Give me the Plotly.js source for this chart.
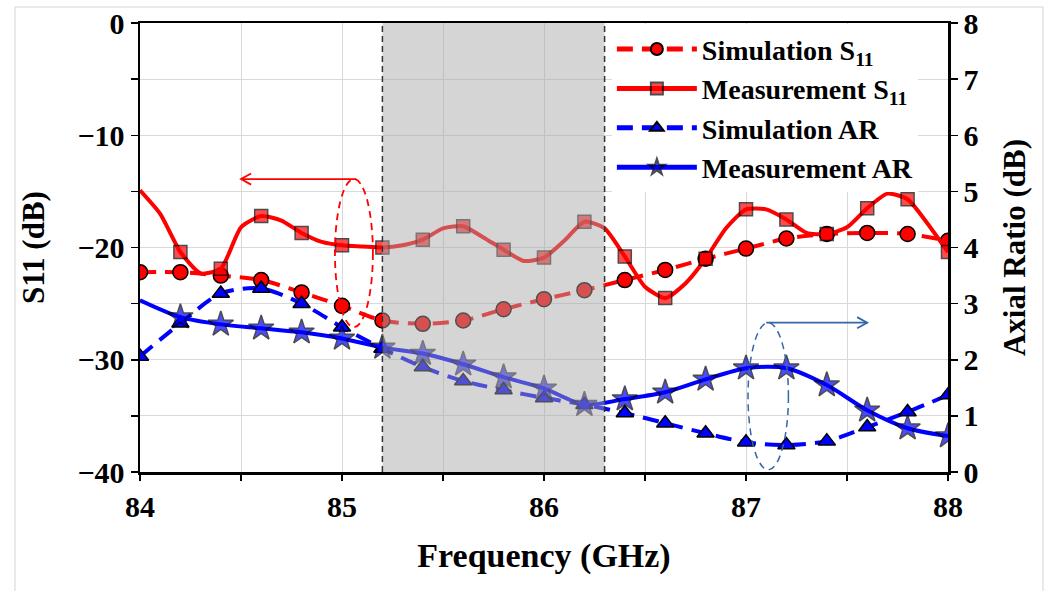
<!DOCTYPE html>
<html>
<head>
<meta charset="utf-8">
<script src="https://cdn.plot.ly/plotly-3.0.1.min.js"></script>
<style>
  html, body { margin: 0; padding: 0; background: #ffffff; }
  #chart { width: 1051px; height: 591px; }
</style>
</head>
<body>
<div id="chart"></div>
<script>
// Frequency grid (GHz): simulation samples every 0.2 GHz, measurement every 0.1 GHz
const freqCoarse = [84.0, 84.2, 84.4, 84.6, 84.8, 85.0, 85.2, 85.4, 85.6, 85.8, 86.0,
                    86.2, 86.4, 86.6, 86.8, 87.0, 87.2, 87.4, 87.6, 87.8, 88.0];
const freqFine = [84.0, 84.1, 84.2, 84.3, 84.4, 84.5, 84.6, 84.7, 84.8, 84.9, 85.0,
                  85.1, 85.2, 85.3, 85.4, 85.5, 85.6, 85.7, 85.8, 85.9, 86.0,
                  86.1, 86.2, 86.3, 86.4, 86.5, 86.6, 86.7, 86.8, 86.9, 87.0,
                  87.1, 87.2, 87.3, 87.4, 87.5, 87.6, 87.7, 87.8, 87.9, 88.0];

// Reflection coefficient S11 (dB)
const simS11 = [-22.2, -22.2, -22.5, -22.9, -24.0, -25.2, -26.5, -26.8, -26.5, -25.5, -24.6,
                -23.8, -22.9, -22.0, -21.0, -20.1, -19.2, -18.8, -18.7, -18.8, -19.4];
const measS11 = [-14.9, -17.0, -20.4, -22.3, -21.9, -18.2, -17.2, -17.6, -18.7, -19.5, -19.8,
                 -19.9, -20.0, -19.8, -19.3, -18.3, -18.1, -19.1, -20.2, -21.2, -20.9,
                 -19.4, -17.7, -18.3, -20.8, -23.5, -24.5, -23.2, -21.0, -18.3, -16.6,
                 -16.6, -17.5, -18.7, -18.8, -18.2, -16.5, -15.2, -15.7, -17.9, -20.4];

// Axial ratio (dB)
const simAR = [2.06, 2.65, 3.18, 3.27, 3.00, 2.58, 2.20, 1.87, 1.62, 1.46, 1.32,
               1.20, 1.05, 0.87, 0.69, 0.53, 0.48, 0.55, 0.80, 1.07, 1.37];
const measAR = [3.06, 2.76, 2.63, 2.56, 2.49, 2.38, 2.22, 2.11, 1.92, 1.69, 1.49,
                1.20, 1.30, 1.42, 1.65, 1.85, 1.85, 1.55, 1.10, 0.78, 0.64];

// Operating band shading
const band = [85.2, 86.3];

const serif = 'Liberation Serif, Times New Roman, serif';
const RED = '#ff0000';
const BLUE = '#0000ff';
const STEEL = '#3566a8';

// measurement markers only on the 0.2 GHz points (first sample is line-only)
const measS11Size = freqFine.map((f, i) => (i % 2 === 0 && i > 0) ? 13 : 0);
const measS11Edge = measS11Size.map(s => s ? 1.5 : 0);
const measARSize = freqCoarse.map((f, i) => i > 0 ? 19 : 0);
const measAREdge = measARSize.map(s => s ? 1.5 : 0);

const traces = [
  {
    name: 'Simulation S<sub>11</sub>', x: freqCoarse, y: simS11, yaxis: 'y',
    mode: 'lines+markers',
    line: { color: RED, width: 4, dash: '16px,9px', shape: 'spline', smoothing: 0.8 },
    marker: { symbol: 'circle', size: 15, color: RED, line: { color: '#000', width: 1.5 } }
  },
  {
    name: 'Measurement S<sub>11</sub>', x: freqFine, y: measS11, yaxis: 'y',
    mode: 'lines+markers',
    line: { color: RED, width: 4, shape: 'spline', smoothing: 0.6 },
    marker: { symbol: 'square', size: measS11Size, color: RED, line: { color: '#000', width: measS11Edge } }
  },
  {
    name: 'Simulation AR', x: freqCoarse, y: simAR, yaxis: 'y2',
    mode: 'lines+markers',
    line: { color: BLUE, width: 4, dash: '16px,9px', shape: 'spline', smoothing: 0.8 },
    marker: { symbol: 'triangle-up', size: 15, color: BLUE, line: { color: '#000', width: 1.5 } }
  },
  {
    name: 'Measurement AR', x: freqCoarse, y: measAR, yaxis: 'y2',
    mode: 'lines+markers',
    line: { color: BLUE, width: 4, shape: 'spline', smoothing: 0.8 },
    marker: { symbol: 'star', size: measARSize, color: BLUE, line: { color: '#000', width: measAREdge } }
  }
];

const tickFont = { family: serif, size: 30, color: '#000', weight: 'bold' };
const titleFont = { family: serif, size: 31, color: '#000', weight: 'bold' };

// open V arrowhead drawn as a path in data units (x: GHz, y: dB)
function arrowHead(x, y, dir) {
  const dx = 0.05 * dir, dy = 0.5;
  return `M ${x - dx},${y + dy} L ${x},${y} L ${x - dx},${y - dy}`;
}

const layout = {
  width: 1051, height: 591,
  margin: { l: 140, r: 103, t: 23, b: 119 },
  paper_bgcolor: '#ffffff', plot_bgcolor: '#ffffff',
  showlegend: true,
  legend: {
    x: 0.584, y: 0.997, xanchor: 'left', yanchor: 'top',
    bgcolor: '#ffffff', borderwidth: 0,
    font: { family: serif, size: 28, color: '#000', weight: 'bold' },
    itemwidth: 80, itemsizing: 'constant', tracegroupgap: 0
  },
  xaxis: {
    range: [84, 88], tick0: 84, dtick: 1,
    showgrid: true, gridcolor: '#d9d9d9', gridwidth: 1, zeroline: false,
    showline: true, linecolor: '#000', linewidth: 2.5, mirror: true,
    ticks: 'outside', ticklen: 6, tickwidth: 1.5, tickcolor: '#000',
    minor: { dtick: 0.5, showgrid: true, gridcolor: '#d9d9d9', gridwidth: 1,
             ticks: 'outside', ticklen: 6, tickwidth: 1.5, tickcolor: '#000' },
    tickfont: tickFont, automargin: false,
    title: { text: 'Frequency (GHz)', font: { family: serif, size: 34, color: '#000', weight: 'bold' }, standoff: 22 }
  },
  yaxis: {
    range: [-40, 0], tick0: -40, dtick: 10,
    showgrid: true, gridcolor: '#d9d9d9', gridwidth: 1, zeroline: false,
    showline: true, linecolor: '#000', linewidth: 2.5,
    ticks: 'outside', ticklen: 7, tickwidth: 1.5, tickcolor: '#000',
    minor: { dtick: 5, showgrid: true, gridcolor: '#d9d9d9', gridwidth: 1,
             ticks: 'outside', ticklen: 7, tickwidth: 1.5, tickcolor: '#000' },
    tickfont: tickFont, automargin: false,
    title: { text: 'S11 (dB)', font: titleFont, standoff: 24 }
  },
  yaxis2: {
    range: [0, 8], tick0: 0, dtick: 1, overlaying: 'y', side: 'right',
    showgrid: false, zeroline: false,
    showline: true, linecolor: '#000', linewidth: 2.5,
    ticks: 'outside', ticklen: 7, tickwidth: 1.5, tickcolor: '#000',
    tickfont: tickFont, automargin: false,
    title: { text: 'Axial Ratio (dB)', font: titleFont, standoff: 26 }
  },
  shapes: [
    // operating band, drawn over the curves as a translucent veil
    { type: 'rect', xref: 'x', yref: 'paper', x0: band[0], x1: band[1], y0: 0, y1: 1,
      fillcolor: 'rgb(168,168,168)', opacity: 0.48, line: { width: 0 }, layer: 'above' },
    { type: 'line', xref: 'x', yref: 'paper', x0: band[0], x1: band[0], y0: 0, y1: 1,
      line: { color: '#333', width: 1.5, dash: '6px,4px' }, layer: 'above' },
    { type: 'line', xref: 'x', yref: 'paper', x0: band[1], x1: band[1], y0: 0, y1: 1,
      line: { color: '#333', width: 1.5, dash: '6px,4px' }, layer: 'above' },
    // ellipses marking which axis each curve family belongs to
    { type: 'circle', xref: 'x', yref: 'y', x0: 84.965, x1: 85.153, y0: -27.1, y1: -13.9,
      line: { color: RED, width: 1.8, dash: '7px,5px' }, layer: 'above' },
    { type: 'circle', xref: 'x', yref: 'y', x0: 87.01, x1: 87.21, y0: -39.8, y1: -26.7,
      line: { color: STEEL, width: 1.5, dash: '7px,5px' }, layer: 'above' },
    // arrows pointing to the S11 axis (left) and the AR axis (right)
    { type: 'line', xref: 'x', yref: 'y', x0: 85.07, x1: 84.5, y0: -13.9, y1: -13.9,
      line: { color: RED, width: 1.8 }, layer: 'above' },
    { type: 'path', xref: 'x', yref: 'y', path: arrowHead(84.5, -13.9, -1),
      line: { color: RED, width: 1.8 }, layer: 'above' },
    { type: 'line', xref: 'x', yref: 'y', x0: 87.1, x1: 87.6, y0: -26.7, y1: -26.7,
      line: { color: STEEL, width: 1.8 }, layer: 'above' },
    { type: 'path', xref: 'x', yref: 'y', path: arrowHead(87.6, -26.7, 1),
      line: { color: STEEL, width: 1.8 }, layer: 'above' },
    // outer frame of the figure
    { type: 'rect', xref: 'paper', yref: 'paper', x0: -0.1547, x1: 1.1176, y0: -0.27, y1: 1.0356,
      line: { color: '#d4d4d4', width: 1 }, fillcolor: 'rgba(0,0,0,0)', layer: 'below' }
  ]
};

Plotly.newPlot('chart', traces, layout, { displayModeBar: false, staticPlot: true });
</script>
</body>
</html>
